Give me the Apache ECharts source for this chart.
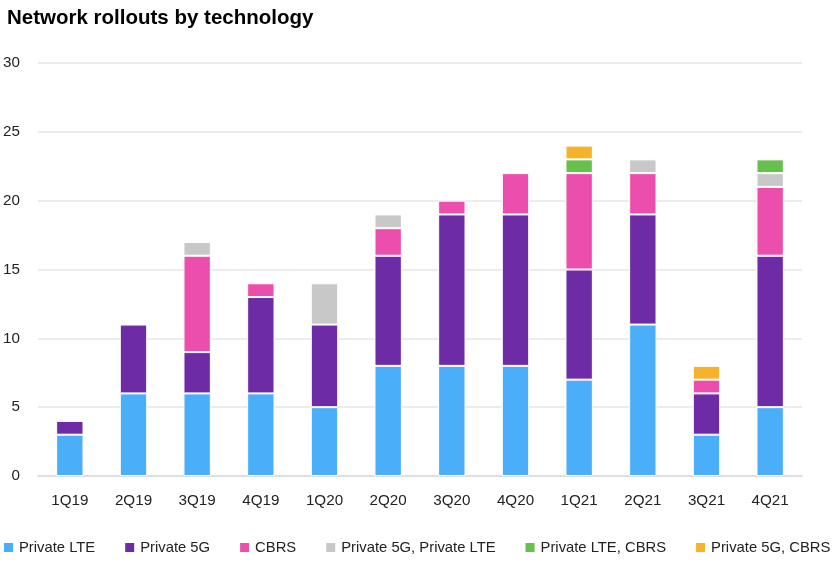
<!DOCTYPE html>
<html><head><meta charset="utf-8">
<script src="https://cdn.jsdelivr.net/npm/echarts@6/dist/echarts.min.js"></script>
<style>html,body{margin:0;padding:0;background:#fff}#c{width:837px;height:562px}</style>
</head><body><div id="c"></div>
<script>
const categories = ['1Q19','2Q19','3Q19','4Q19','1Q20','2Q20','3Q20','4Q20','1Q21','2Q21','3Q21','4Q21'];
const privateLTE   = [3, 6, 6, 6, 5, 8, 8, 8, 7, 11, 3, 5];
const private5G    = [1, 5, 3, 7, 6, 8, 11, 11, 8, 8, 3, 11];
const cbrs         = [0, 0, 7, 1, 0, 2, 1, 3, 7, 3, 1, 5];
const fiveGLTE     = [0, 0, 1, 0, 3, 1, 0, 0, 0, 1, 0, 1];
const lteCBRS      = [0, 0, 0, 0, 0, 0, 0, 0, 1, 0, 0, 1];
const fiveGCBRS    = [0, 0, 0, 0, 0, 0, 0, 0, 1, 0, 1, 0];
const yTicks = [0, 5, 10, 15, 20, 25, 30];

const seriesDefs = [
  ['Private LTE', privateLTE, '#4BAEF8'],
  ['Private 5G', private5G, '#6E2BA6'],
  ['CBRS', cbrs, '#EC4EAD'],
  ['Private 5G, Private LTE', fiveGLTE, '#C8C8C8'],
  ['Private LTE, CBRS', lteCBRS, '#68C04C'],
  ['Private 5G, CBRS', fiveGCBRS, '#F5B22A']
];
const font = 'Liberation Sans';
const chart = echarts.init(document.getElementById('c'));
chart.setOption({
  animation: false,
  title: {text: 'Network rollouts by technology', left: 2, top: 3,
    textStyle: {fontFamily: font, fontWeight: 'bold', fontSize: 20.5, color: '#000'}},
  legend: {left: -3, top: 535, width: 848, padding: [5, 0, 5, 5], itemWidth: 11, itemHeight: 11, itemGap: 28,
    icon: 'rect', textStyle: {fontFamily: font, fontSize: 14.8, color: '#222'},
    data: seriesDefs.map(s => s[0])},
  grid: {left: 38, right: 35, top: 63, bottom: 86},
  xAxis: {type: 'category', data: categories,
    axisLine: {lineStyle: {color: '#D9D9D9', width: 1.5}}, axisTick: {show: false},
    axisLabel: {fontFamily: font, fontSize: 15.2, color: '#222', margin: 17}},
  yAxis: {type: 'value', min: yTicks[0], max: yTicks[yTicks.length-1], interval: 5,
    axisLine: {show: false}, axisTick: {show: false},
    splitLine: {lineStyle: {color: '#E6E6E6', width: 1.5}},
    axisLabel: {fontFamily: font, fontSize: 15.2, color: '#222', margin: 18}},
  series: seriesDefs.map(([name, data, color]) => ({
    name, type: 'bar', stack: 'total', data: data.map(v => v === 0 ? null : v),
    barWidth: '43%',
    itemStyle: {color, borderColor: '#fff', borderWidth: 1}
  }))
});
</script></body></html>
